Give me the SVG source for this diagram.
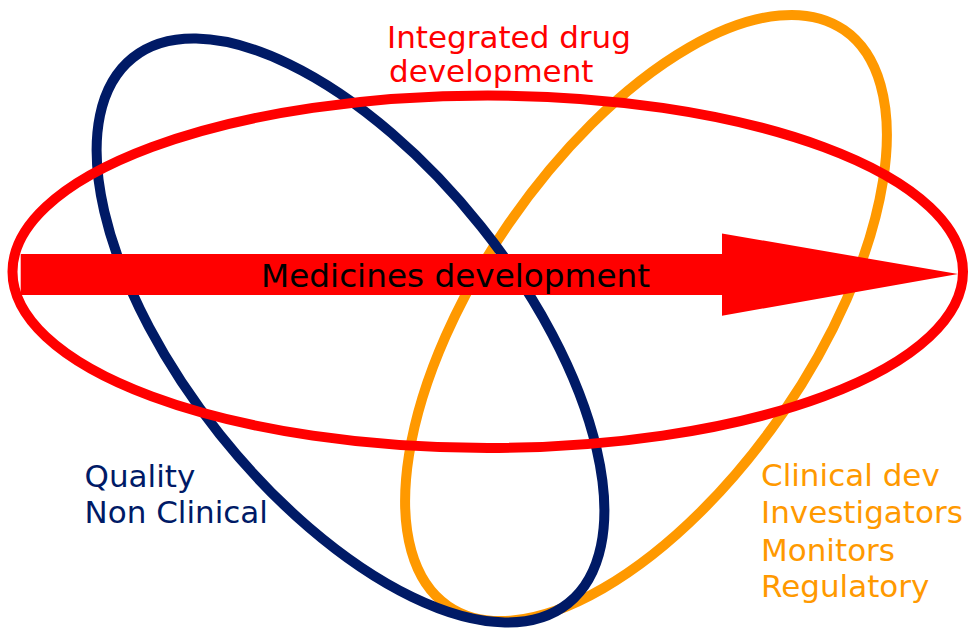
<svg xmlns="http://www.w3.org/2000/svg" width="969" height="631" viewBox="0 0 969 631">
<style>
.ring{fill:none;stroke-width:10}
.t{font-family:"DejaVu Sans","Verdana",sans-serif;font-size:31px}
.big{font-size:32.7px}
</style>
<rect width="969" height="631" fill="#fff"/>
<g id="connectors">
<g id="orange-ring"><ellipse class="ring" cx="646" cy="318" rx="349.5" ry="166.5" transform="rotate(-55.5 646 318)" stroke="#FF9900"/></g>
<g id="navy-ring"><ellipse class="ring" cx="350.5" cy="330.5" rx="349" ry="167" transform="rotate(51.4 350.5 330.5)" stroke="#001A66"/></g>
<g id="red-ring"><ellipse class="ring" cx="487.75" cy="271.75" rx="475.25" ry="176.25" stroke="#FF0000"/></g>
<g id="arrow"><polygon points="20.7,254 722,254 722,233.5 958,274 722,315.7 722,295 20.7,295" fill="#FF0000"/></g>
</g>
<g id="medicines"><text class="t big" x="261" y="287" fill="#000">Medicines development</text></g>
<g id="integrated"><text class="t" fill="#FF0000"><tspan x="387" y="48">Integrated drug</tspan><tspan x="389" y="81.5">development</tspan></text></g>
<g id="quality"><text class="t" fill="#001A66"><tspan x="84.5" y="487">Quality</tspan><tspan x="84.5" y="523">Non Clinical</tspan></text></g>
<g id="clinical"><text class="t" fill="#FF9900"><tspan x="761" y="486">Clinical dev</tspan><tspan x="761" y="523">Investigators</tspan><tspan x="761" y="560.5">Monitors</tspan><tspan x="761" y="597">Regulatory</tspan></text></g>
</svg>
